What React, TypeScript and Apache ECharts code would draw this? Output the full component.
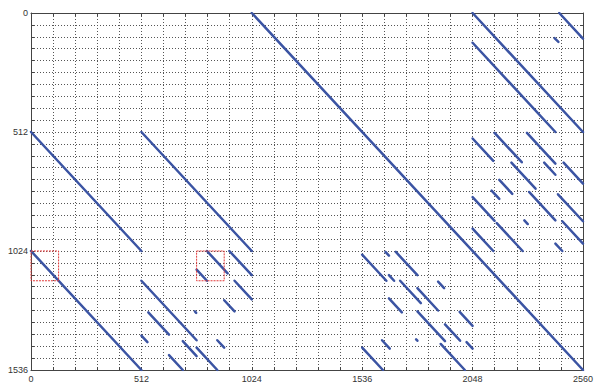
import React, { useEffect, useRef } from "react";
import * as echarts from "echarts";

const xRange = [0, 2560];
const yRange = [0, 1536];
const xGridStep = 102.4;
const yGridStep = 51.2;
const labelStep = 512;

// [x0, y0, x1, y1] in matrix coordinates (column, row)
const mainDiagonals = [
  [1024, 0, 2560, 1536],
  [0, 512, 512, 1024],
  [0, 1024, 512, 1536],
  [512, 512, 1024, 1024],
  [2048, 0, 2560, 512],
  [2048, 128, 2432, 512],
  [2450, 0, 2560, 110],
];

const upperRightSegments = [
  [2428, 108, 2446, 124],
  [2048, 540, 2144, 636],
  [2150, 516, 2276, 642],
  [2300, 516, 2432, 648],
  [2228, 644, 2340, 756],
  [2380, 644, 2432, 696],
  [2470, 644, 2560, 734],
  [2172, 718, 2232, 778],
  [2136, 764, 2172, 800],
  [2310, 770, 2432, 892],
  [2444, 780, 2560, 896],
  [2048, 792, 2150, 894],
  [2160, 904, 2280, 1024],
  [2048, 928, 2144, 1024],
  [2464, 896, 2560, 992],
  [2432, 992, 2464, 1024],
  [2288, 892, 2304, 908],
];

const lowerMiddleSegments = [
  [1536, 1040, 1648, 1152],
  [1644, 1028, 1660, 1044],
  [1692, 1028, 1792, 1128],
  [1660, 1128, 1684, 1152],
  [1712, 1152, 1808, 1248],
  [1792, 1184, 1888, 1280],
  [1888, 1156, 1916, 1184],
  [1660, 1228, 1720, 1288],
  [1792, 1284, 1920, 1412],
  [1920, 1340, 1990, 1410],
  [1988, 1286, 2048, 1346],
  [2020, 1416, 2048, 1444],
  [1900, 1424, 2012, 1536],
  [1628, 1408, 1664, 1444],
  [1536, 1440, 1632, 1536],
  [1786, 1404, 1792, 1410],
];

const lowerLeftSegments = [
  [816, 1024, 912, 1120],
  [768, 1104, 816, 1152],
  [920, 1024, 1024, 1128],
  [944, 1152, 1024, 1232],
  [896, 1236, 944, 1284],
  [512, 1152, 768, 1408],
  [544, 1288, 640, 1384],
  [512, 1388, 540, 1416],
  [704, 1412, 768, 1476],
  [640, 1472, 704, 1536],
  [768, 1440, 864, 1536],
  [864, 1408, 896, 1440],
  [760, 1284, 766, 1290],
];

// [x0, y0, x1, y1] highlighted blocks
const redBoxes = [
  [0, 1024, 128, 1152],
  [768, 1024, 896, 1152],
];

const FONT = "'Liberation Sans', Arial, sans-serif";
const AXIS_COLOR = "#444";

function labelFmt(v: number) {
  const r = v / labelStep;
  return Math.abs(r - Math.round(r)) < 1e-6 ? String(Math.round(v)) : "";
}

export default function App() {
  const ref = useRef<HTMLDivElement>(null);

  useEffect(() => {
    if (!ref.current) return;
    const chart = echarts.init(ref.current, undefined, { renderer: "svg" });

    const allSegs = [
      ...mainDiagonals,
      ...upperRightSegments,
      ...lowerMiddleSegments,
      ...lowerLeftSegments,
    ].map((s) => ({ coords: [[s[0], s[1]], [s[2], s[3]]] }));

    const boxData = redBoxes.map((b) => ({
      coords: [
        [b[0], b[1]],
        [b[2], b[1]],
        [b[2], b[3]],
        [b[0], b[3]],
        [b[0], b[1]],
      ],
    }));

    const baseX = {
      type: "value" as const,
      min: xRange[0],
      max: xRange[1],
      interval: xGridStep,
      axisLine: { show: true, onZero: false, lineStyle: { color: AXIS_COLOR, width: 1 } },
      axisTick: { show: true, inside: true, length: 3, lineStyle: { color: AXIS_COLOR } },
    };
    const baseY = {
      type: "value" as const,
      min: yRange[0],
      max: yRange[1],
      interval: yGridStep,
      inverse: true,
      axisLine: { show: true, onZero: false, lineStyle: { color: AXIS_COLOR, width: 1 } },
      axisTick: { show: true, inside: true, length: 3, lineStyle: { color: AXIS_COLOR } },
    };

    chart.setOption({
      animation: false,
      backgroundColor: "#ffffff",
      grid: { left: 31, top: 13, right: 7, bottom: 15, containLabel: false },
      xAxis: [
        {
          ...baseX,
          position: "bottom",
          axisLabel: {
            formatter: labelFmt,
            color: "#333",
            fontSize: 9,
            fontFamily: FONT,
            margin: 4,
            showMinLabel: true,
            showMaxLabel: true,
          },
          splitLine: { show: true, lineStyle: { type: [1, 2], color: "#555", width: 1 } },
        },
        {
          ...baseX,
          position: "top",
          axisLabel: { show: false },
          splitLine: { show: false },
        },
      ],
      yAxis: [
        {
          ...baseY,
          position: "left",
          axisLabel: {
            formatter: labelFmt,
            color: "#333",
            fontSize: 9,
            fontFamily: FONT,
            margin: 3,
            showMinLabel: true,
            showMaxLabel: true,
          },
          splitLine: { show: true, lineStyle: { type: [1, 2], color: "#555", width: 1 } },
        },
        {
          ...baseY,
          position: "right",
          axisLabel: { show: false },
          splitLine: { show: false },
        },
      ],
      series: [
        {
          type: "lines",
          coordinateSystem: "cartesian2d",
          xAxisIndex: 0,
          yAxisIndex: 0,
          silent: true,
          lineStyle: { color: "#3b54a3", width: 2.5, opacity: 1, cap: "round" },
          data: allSegs,
          z: 3,
        },
        {
          type: "lines",
          coordinateSystem: "cartesian2d",
          xAxisIndex: 0,
          yAxisIndex: 0,
          polyline: true,
          silent: true,
          lineStyle: { color: "#e23a3a", width: 1, opacity: 1, type: [2, 1] },
          data: boxData,
          z: 4,
        },
      ],
    });

    return () => {
      chart.dispose();
    };
  }, []);

  return (
    <div
      ref={ref}
      style={{ position: "fixed", left: 0, top: 0, width: 596, height: 385, background: "#fff" }}
    />
  );
}
